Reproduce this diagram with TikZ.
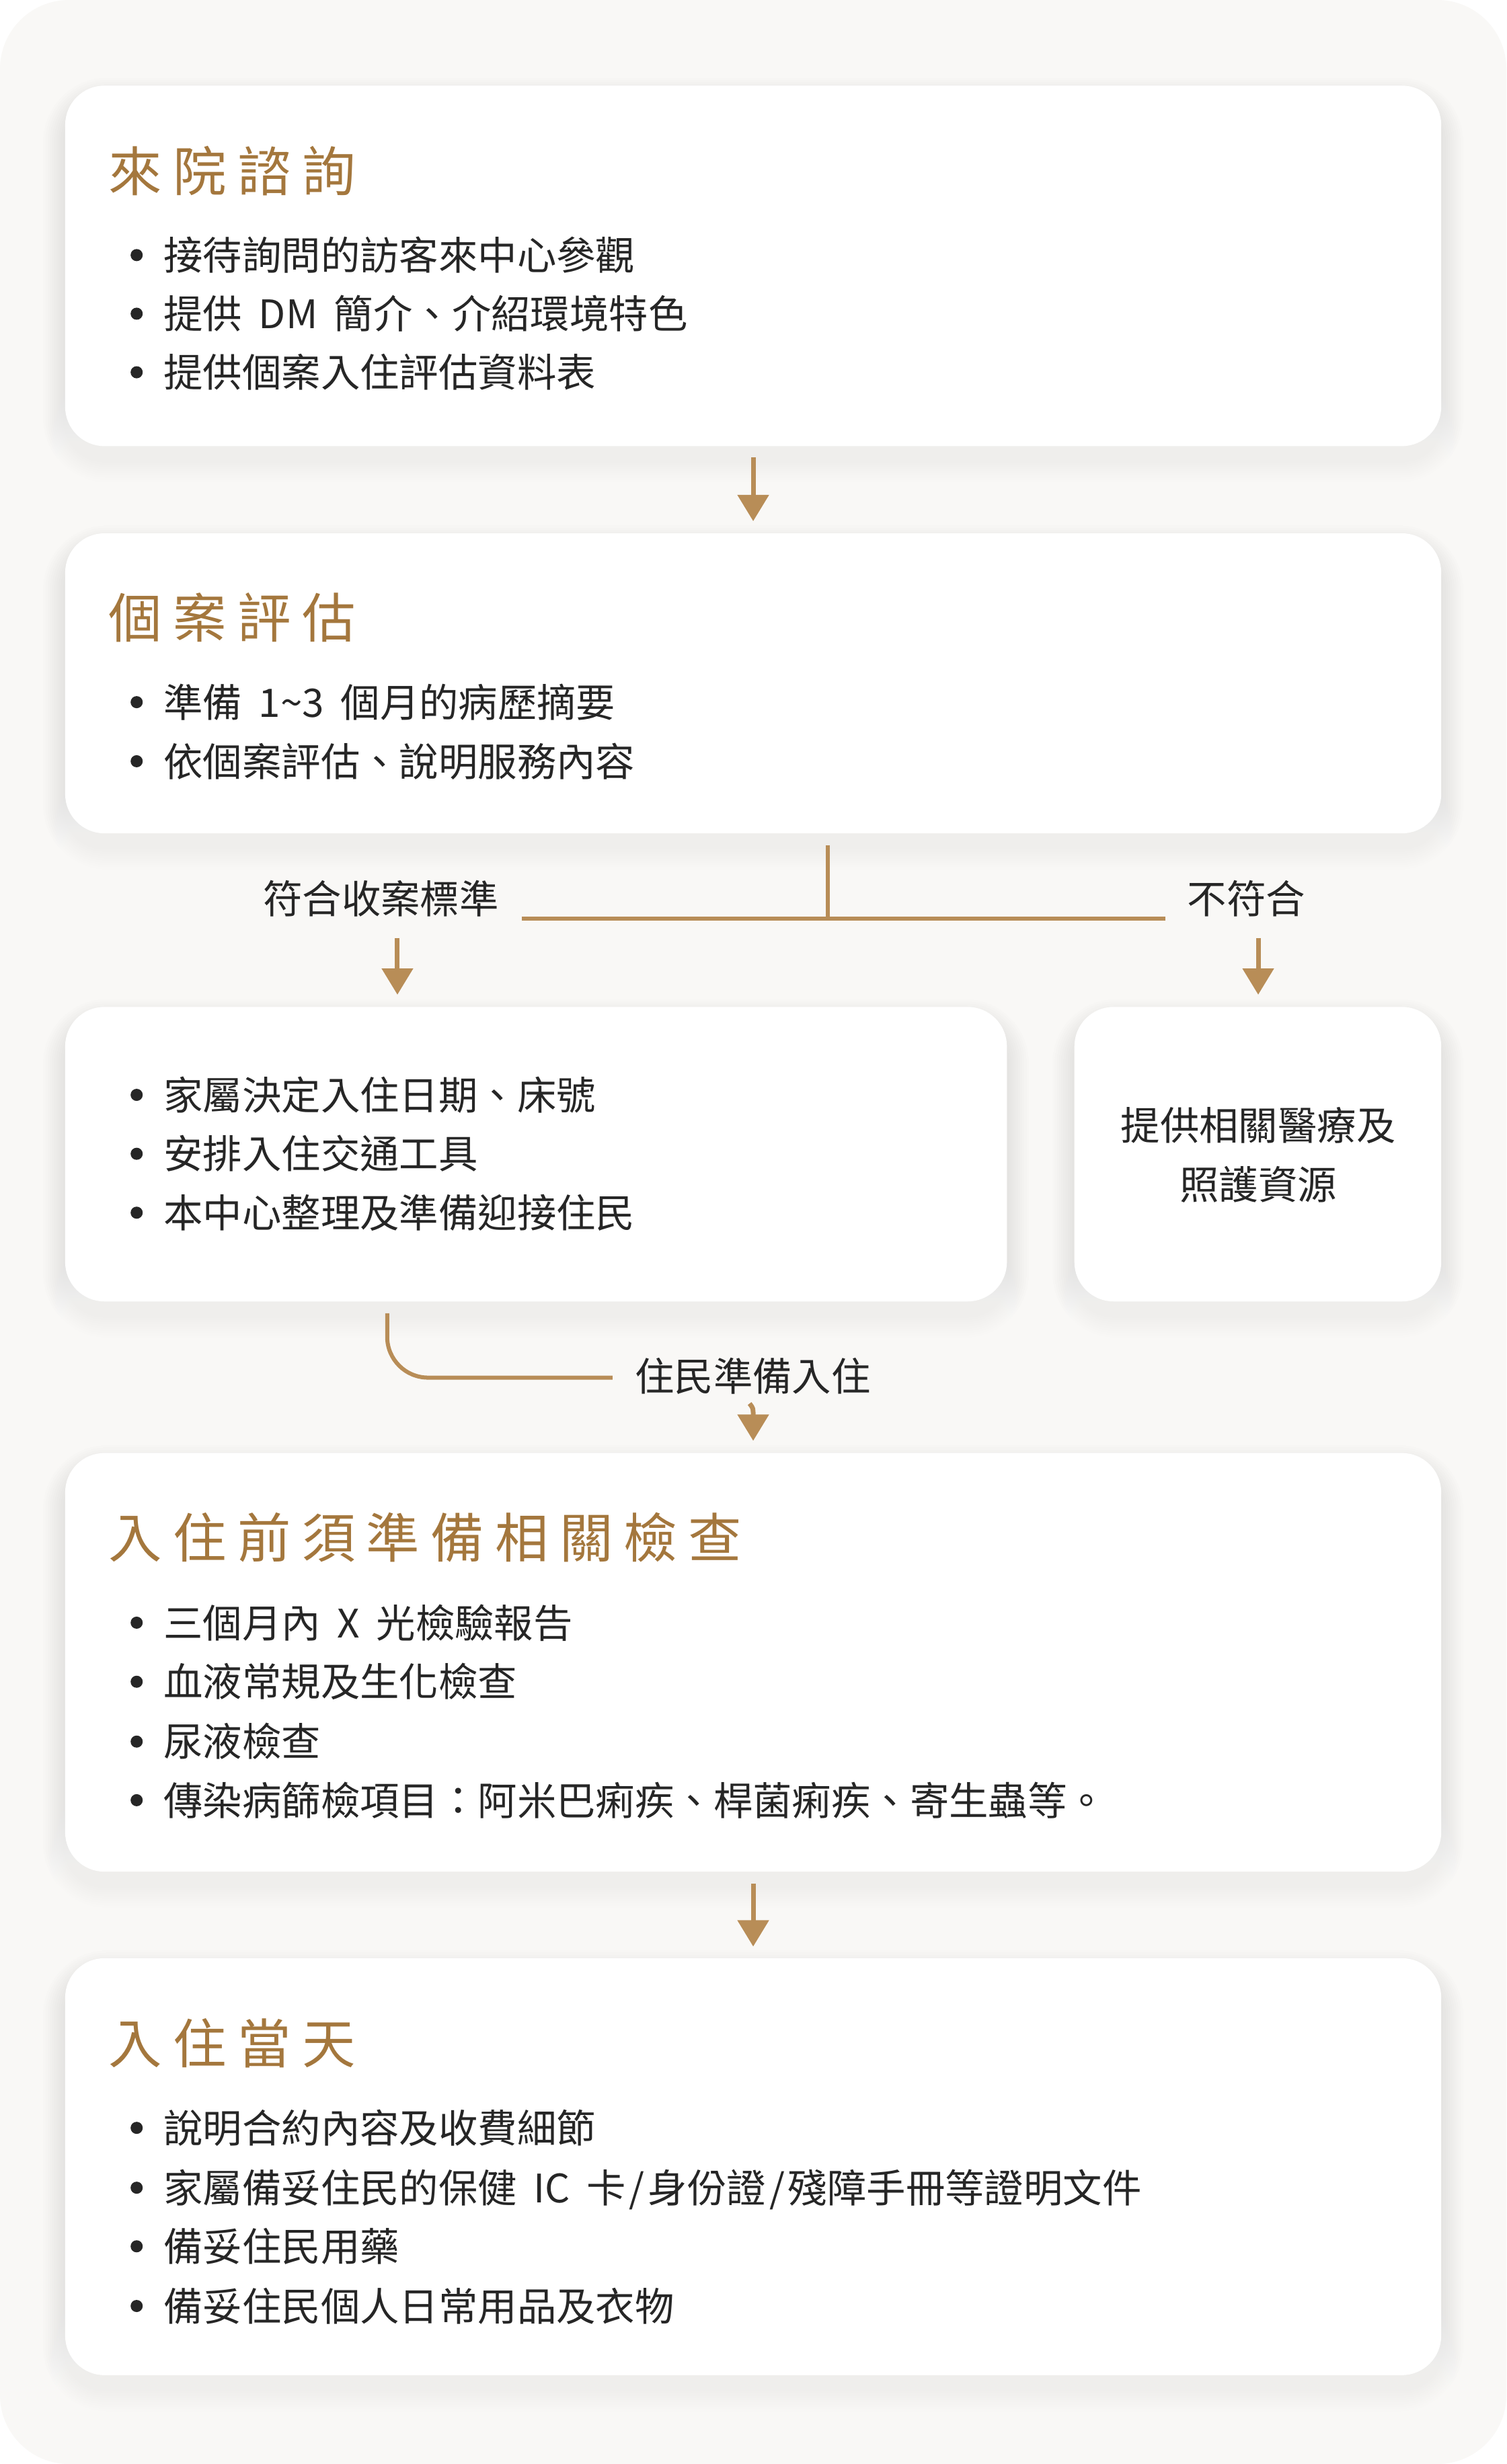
\documentclass[tikz,border=0pt]{standalone}
\usepackage{fontspec}
\newfontfamily\cjk{Noto Sans CJK TC}
\usetikzlibrary{arrows.meta,fit,calc}
\definecolor{bg}{HTML}{F9F8F6}
\definecolor{gold}{HTML}{B88D57}
\definecolor{golddk}{HTML}{A4773D}
\definecolor{ink}{HTML}{262626}
\definecolor{shade}{HTML}{8A6F55}
\newcommand\tsp{\hspace{4.9pt}}
\newcommand\wsp{\hspace{0.42em}}
\newcommand\slsh{\hspace{1.5pt}/\hspace{1.5pt}}
\newcommand\bodyfont{\fontsize{17.5pt}{21pt}\selectfont\cjk}
\newcommand\titfont{\fontsize{23.8pt}{28pt}\selectfont\cjk}
\newcommand\shadowfor[4]{%
  \foreach \i in {1,...,10}{%
    \pgfmathsetmacro\rr{17.5+1.1*\i}%
    \fill[shade, opacity=0.005, rounded corners=\rr pt]
      (#1-\i*1.4, #2-\i*1.4+9) rectangle (#3+\i*1.4, #4+\i*1.4+9);
  }}
\newcommand\bitem[3]{%
  \fill[ink] (87,#2) circle (2.7pt);
  \node[itm] (#1) at (104,#2) {#3};}
\begin{document}
\begin{tikzpicture}[x=0.7pt,y=-0.7pt,
  box/.style={fill=white, rounded corners=17.5pt, inner sep=0pt},
  itm/.style={anchor=west, inner sep=0pt, font=\bodyfont, text=ink, text height=15.4pt, text depth=2.1pt},
  lbl/.style={inner sep=0pt, font=\bodyfont, text=ink, text height=15.4pt, text depth=2.1pt},
  ttl/.style={anchor=west, inner sep=0pt, font=\titfont, text=golddk, text height=20.9pt, text depth=2.9pt},
  conn/.style={draw=gold, line width=1.8pt},
  arr/.style={draw=gold, line width=2.1pt, -{Triangle[length=11.7pt,width=13.6pt]}},
]
\useasboundingbox (0,0) rectangle (959,1568.6);
\fill[white] (0,0) rectangle (959,1568.6);
\fill[bg, rounded corners=30.8pt] (0,0) rectangle (959,1568.6);

% shadows
\shadowfor{41.5}{54.5}{917.5}{284}
\shadowfor{41.5}{339.5}{917.5}{530.5}
\shadowfor{41.5}{641}{641}{828.5}
\shadowfor{684}{641}{917.5}{828.5}
\shadowfor{41.5}{925}{917.5}{1191.5}
\shadowfor{41.5}{1246.6}{917.5}{1512}

% boxes
\node[box, fit={(41.5,54.5)(917.5,284)}] (b1) {};
\node[box, fit={(41.5,339.5)(917.5,530.5)}] (b2) {};
\node[box, fit={(41.5,641)(641,828.5)}] (b3a) {};
\node[box, fit={(684,641)(917.5,828.5)}] (b3b) {};
\node[box, fit={(41.5,925)(917.5,1191.5)}] (b4) {};
\node[box, fit={(41.5,1246.6)(917.5,1512)}] (b5) {};

% box 1
\node[ttl] (t1) at (69,109) {來\tsp 院\tsp 諮\tsp 詢};
\bitem{i11}{162.4}{接待詢問的訪客來中心參觀}
\bitem{i12}{199.7}{提供\wsp DM\wsp 簡介、介紹環境特色}
\bitem{i13}{237}{提供個案入住評估資料表}

% box 2
\node[ttl] (t2) at (69,393) {個\tsp 案\tsp 評\tsp 估};
\bitem{i21}{447}{準備\wsp 1\textasciitilde 3\wsp 個月的病歷摘要}
\bitem{i22}{484.6}{依個案評估、說明服務內容}

% box 3a
\bitem{i31}{697}{家屬決定入住日期、床號}
\bitem{i32}{734.5}{安排入住交通工具}
\bitem{i33}{772}{本中心整理及準備迎接住民}

% box 3b
\node[lbl] (r1) at (801,716.5) {提供相關醫療及};
\node[lbl] (r2) at (801,754) {照護資源};

% box 4
\node[ttl] (t4) at (69,979) {入\tsp 住\tsp 前\tsp 須\tsp 準\tsp 備\tsp 相\tsp 關\tsp 檢\tsp 查};
\bitem{i41}{1033}{三個月內\wsp X\wsp 光檢驗報告}
\bitem{i42}{1070.6}{血液常規及生化檢查}
\bitem{i43}{1108.7}{尿液檢查}
\bitem{i44}{1146}{傳染病篩檢項目：阿米巴痢疾、桿菌痢疾、寄生蟲等。}

% box 5
\node[ttl] (t5) at (69,1301) {入\tsp 住\tsp 當\tsp 天};
\bitem{i51}{1354.6}{說明合約內容及收費細節}
\bitem{i52}{1392.7}{家屬備妥住民的保健\wsp IC\wsp 卡\slsh 身份證\slsh 殘障手冊等證明文件}
\bitem{i53}{1430}{備妥住民用藥}
\bitem{i54}{1468}{備妥住民個人日常用品及衣物}

% labels
\node[lbl] (lyes) at (242.5,572) {符合收案標準};
\node[lbl] (lno) at (793.5,572) {不符合};
\node[lbl] (lgo) at (479.3,876) {住民準備入住};

% connectors
\draw[arr, shorten <=4.9pt, shorten >=5.2pt] (b1.south) -- (b2.north);

\coordinate (jtop) at (527,538);
\coordinate (hl) at (332,585);
\coordinate (hr) at (742,585);
\draw[conn] (jtop) -- (jtop |- hl);
\draw[conn] (hl) -- (hr);

\coordinate (ay) at (253,597);
\coordinate (an) at (801,597);
\draw[arr, shorten >=5.25pt] (ay) -- (ay |- b3a.north);
\draw[arr, shorten >=5.25pt] (an) -- (an |- b3b.north);

\coordinate (cs) at (246.5,836);
\coordinate (ce) at (390,877);
\draw[conn, rounded corners=18.2pt] (cs) -- (cs |- ce) -- (ce);

\coordinate (gs) at (477.2,893.5);
\draw[arr, shorten >=5.25pt] (gs) .. controls (479.5,896.5) .. (b4.north);

\draw[arr, shorten <=5pt, shorten >=5pt] (b4.south) -- (b5.north);
\end{tikzpicture}
\end{document}
